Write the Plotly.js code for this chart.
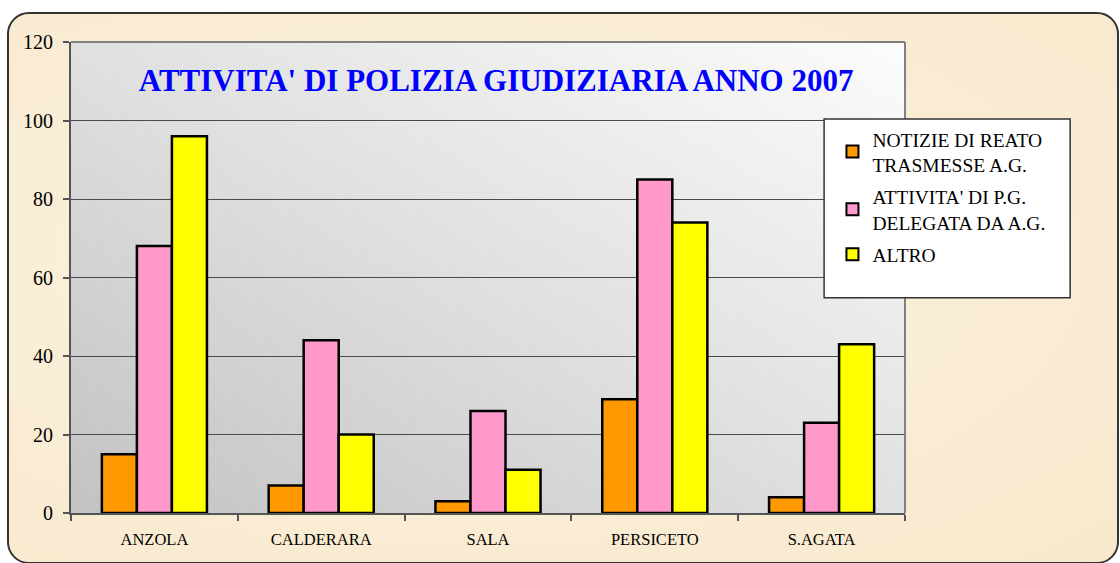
<!DOCTYPE html>
<html>
<head>
<meta charset="utf-8">
<script src="https://cdn.plot.ly/plotly-3.0.1.min.js"></script>
<style>
  html, body { margin:0; padding:0; background:#ffffff; width:1120px; height:563px; overflow:hidden; }
  #frame { position:absolute; left:7px; top:12px; width:1112px; height:552px; box-sizing:border-box;
    border:2px solid #333; border-radius:22px;
    background: radial-gradient(ellipse at 40% 45%, #fcf2de 0%, #faedd5 55%, #f8e9cd 100%); }
  #chart { position:absolute; left:0; top:0; width:1120px; height:563px; }
</style>
</head>
<body>
<div id="frame"></div>
<div id="chart"></div>
<script>
const categories = ["ANZOLA", "CALDERARA", "SALA", "PERSICETO", "S.AGATA"];
const seriesNames = ["NOTIZIE DI REATO<br>TRASMESSE A.G.", "ATTIVITA' DI P.G.<br>DELEGATA DA A.G.", "ALTRO"];
const notizie = [15, 7, 3, 29, 4];
const attivita = [68, 44, 26, 85, 23];
const altro = [96, 20, 11, 74, 43];
const colors = ["#ff9900", "#ff99cc", "#ffff00"];
const yTicks = [0, 20, 40, 60, 80, 100, 120];

const seriesValues = [notizie, attivita, altro];
const traces = seriesValues.map((vals, i) => ({
  type: "bar",
  name: seriesNames[i],
  x: categories,
  y: vals,
  legendgroup: "g" + i,
  marker: { color: colors[i], line: { color: "#000000", width: 2.5 } },
  hoverinfo: "x+y+name"
}));

const grad = 'data:image/svg+xml;utf8,' + encodeURIComponent(
  '<svg xmlns="http://www.w3.org/2000/svg" width="834" height="471" preserveAspectRatio="none">' +
  '<defs><linearGradient id="g" x1="0" y1="1" x2="1" y2="0">' +
  '<stop offset="0" stop-color="#c2c2c2"/><stop offset="0.5" stop-color="#e0e0e0"/><stop offset="1" stop-color="#fcfcfc"/></linearGradient>' +
  '<pattern id="p" width="14" height="14" patternUnits="userSpaceOnUse" patternTransform="rotate(-30)">' +
  '<line x1="0" y1="0" x2="0" y2="14" stroke="#ffffff" stroke-opacity="0.18" stroke-width="1"/></pattern></defs>' +
  '<rect width="834" height="471" fill="url(#g)"/><rect width="834" height="471" fill="url(#p)"/></svg>');

const layout = {
  width: 1120, height: 563,
  margin: { l: 71, r: 215, t: 42, b: 50 },
  paper_bgcolor: "rgba(0,0,0,0)",
  plot_bgcolor: "rgba(0,0,0,0)",
  barmode: "group",
  bargap: 0.37,
  bargroupgap: 0,
  showlegend: true,
  font: { family: "Liberation Serif, serif", color: "#000" },
  title: {
    text: "<b>ATTIVITA' DI POLIZIA GIUDIZIARIA ANNO 2007</b>",
    font: { family: "Liberation Serif, serif", size: 31, color: "#0000ff" },
    x: 0.443, xanchor: "center", y: 0.858, yanchor: "middle"
  },
  xaxis: {
    type: "category",
    showline: true, linecolor: "#555", linewidth: 2,
    ticks: "outside", tickson: "boundaries", ticklen: 6, tickcolor: "#555", tickwidth: 1.5,
    tickfont: { family: "Liberation Serif, serif", size: 16.5, color: "#000" },
    ticklabelstandoff: 10,
    showgrid: false, mirror: false
  },
  yaxis: {
    range: [0, 120],
    tickvals: yTicks,
    ticktext: yTicks.map(String),
    showline: true, linecolor: "#555", linewidth: 2,
    ticks: "outside", ticklen: 6, tickcolor: "#555", tickwidth: 1.5,
    tickfont: { family: "Liberation Serif, serif", size: 20, color: "#000" },
    ticklabelstandoff: 6,
    showgrid: true, gridcolor: "#4a4a4a", gridwidth: 1,
    zeroline: false
  },
  images: [{
    source: grad, xref: "paper", yref: "paper", x: 0, y: 1, sizex: 1, sizey: 1,
    sizing: "stretch", layer: "below", xanchor: "left", yanchor: "top"
  }],
  shapes: [
    { type: "line", xref: "paper", yref: "paper", x0: 0, x1: 1, y0: 1, y1: 1, line: { color: "#808080", width: 2 }, layer: "above" },
    { type: "line", xref: "paper", yref: "paper", x0: 1, x1: 1, y0: 0, y1: 1, line: { color: "#808080", width: 2 }, layer: "above" },
    { type: "rect", xref: "paper", yref: "paper", x0: 0.903, x1: 1.198, y0: 0.457, y1: 0.8365,
      fillcolor: "#ffffff", line: { color: "#333", width: 1.5 }, layer: "above" }
  ],
  legend: {
    x: 0.913, xanchor: "left", y: 0.835, yanchor: "top",
    bgcolor: "rgba(0,0,0,0)", borderwidth: 0,
    font: { family: "Liberation Serif, serif", size: 19.5, color: "#000" },
    traceorder: "grouped", tracegroupgap: 4,
    itemsizing: "constant"
  },
  hovermode: "closest"
};

Plotly.newPlot("chart", traces, layout, { displayModeBar: false, staticPlot: false });
</script>
</body>
</html>
